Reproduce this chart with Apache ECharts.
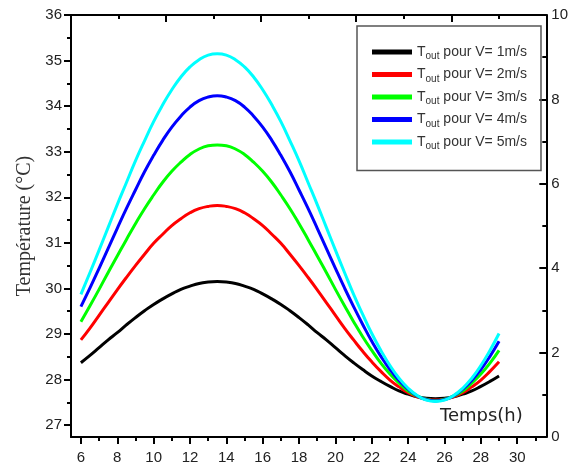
<!DOCTYPE html>
<html>
<head>
<meta charset="utf-8">
<script src="https://cdn.jsdelivr.net/npm/echarts@6/dist/echarts.min.js"></script>
<style>html,body{margin:0;padding:0;background:#fff}#c{width:571px;height:467px}</style>
</head>
<body>
<div id="c"></div>
<script>
// Time (h)
const hours = [6,6.5,7,7.5,8,8.5,9,9.5,10,10.5,11,11.5,12,12.5,13,13.5,14,14.5,15,15.5,16,16.5,17,17.5,18,18.5,19,19.5,20,20.5,21,21.5,22,22.5,23,23.5,24,24.5,25,25.5,26,26.5,27,27.5,28,28.5,29];
// Tout for each air speed (°C)
const v1 = [28.37,28.53,28.70,28.87,29.03,29.20,29.36,29.51,29.65,29.77,29.88,29.98,30.05,30.11,30.14,30.15,30.14,30.11,30.05,29.98,29.88,29.77,29.65,29.51,29.36,29.20,29.03,28.87,28.70,28.53,28.37,28.22,28.08,27.96,27.85,27.75,27.68,27.62,27.59,27.58,27.59,27.62,27.68,27.75,27.85,27.96,28.08];
const v2 = [28.87,29.13,29.41,29.69,29.97,30.24,30.50,30.75,30.99,31.19,31.38,31.53,31.66,31.75,31.80,31.82,31.80,31.75,31.66,31.53,31.38,31.19,30.99,30.75,30.50,30.24,29.97,29.69,29.41,29.13,28.87,28.62,28.39,28.18,27.99,27.84,27.71,27.62,27.57,27.55,27.57,27.62,27.71,27.84,27.99,28.18,28.39];
const v3 = [29.27,29.62,29.98,30.35,30.71,31.07,31.42,31.75,32.05,32.33,32.57,32.77,32.94,33.06,33.13,33.15,33.13,33.06,32.94,32.77,32.57,32.33,32.05,31.75,31.42,31.07,30.71,30.35,29.98,29.62,29.27,28.94,28.64,28.36,28.12,27.92,27.75,27.64,27.57,27.54,27.57,27.64,27.75,27.92,28.12,28.36,28.64];
const v4 = [29.60,30.01,30.44,30.88,31.32,31.75,32.16,32.56,32.92,33.25,33.54,33.78,33.98,34.12,34.20,34.23,34.20,34.12,33.98,33.78,33.54,33.25,32.92,32.56,32.16,31.75,31.32,30.88,30.44,30.01,29.60,29.21,28.84,28.51,28.22,27.98,27.79,27.64,27.56,27.53,27.56,27.64,27.79,27.98,28.22,28.51,28.84];
const v5 = [29.87,30.35,30.84,31.34,31.84,32.32,32.80,33.24,33.66,34.03,34.36,34.64,34.86,35.02,35.12,35.15,35.12,35.02,34.86,34.64,34.36,34.03,33.66,33.24,32.80,32.32,31.84,31.34,30.84,30.35,29.87,29.43,29.01,28.64,28.31,28.03,27.81,27.65,27.55,27.52,27.55,27.65,27.81,28.03,28.31,28.64,29.01];
const seriesNames = ['Tout pour V= 1m/s','Tout pour V= 2m/s','Tout pour V= 3m/s','Tout pour V= 4m/s','Tout pour V= 5m/s'];
const seriesColors = ['#000000','#ff0000','#00ff00','#0000ff','#00ffff'];
// tick labels
const xLabels = [6,8,10,12,14,16,18,20,22,24,26,28,30];
const xMinor = [7,9,11,13,15,17,19,21,23,25,27,29,31];
const yLabels = [27,28,29,30,31,32,33,34,35,36];
const yMinor = [27.5,28.5,29.5,30.5,31.5,32.5,33.5,34.5,35.5];

const allData = [v1,v2,v3,v4,v5];
const labelFont = {color:'#222', fontSize:15, fontFamily:'Liberation Sans, Arial, sans-serif'};
const axisLine = {show:true, lineStyle:{color:'#000', width:2}};

const chart = echarts.init(document.getElementById('c'), null, {renderer:'canvas'});
chart.setOption({
  animation:false,
  backgroundColor:'#fff',
  grid:{left:71, right:20, top:15, bottom:30},
  legend:{
    orient:'vertical', left:357, top:26,
    padding:[19,14,19,15],
    itemGap:6, itemWidth:40, itemHeight:5,
    icon:'rect',
    borderColor:'#555', borderWidth:1.5,
    data:seriesNames,
    formatter:function(n){ return 'T{sub|out}' + n.slice(4); },
    textStyle:{color:'#333', fontSize:14, fontFamily:'Liberation Sans, Arial, sans-serif',
      rich:{sub:{fontSize:10, color:'#333', fontFamily:'Liberation Sans, Arial, sans-serif', padding:[9,0,0,0]}}}
  },
  xAxis:[
    {type:'value', position:'bottom', min:5.455, max:31.6,
     axisLine:axisLine, splitLine:{show:false},
     axisTick:{show:true, inside:false, length:7, lineStyle:{color:'#000', width:2}, customValues:xLabels},
     axisLabel:Object.assign({margin:13, customValues:xLabels}, labelFont)},
    {type:'value', position:'bottom', min:5.455, max:31.6,
     axisLine:{show:false}, splitLine:{show:false}, axisLabel:{show:false},
     axisTick:{show:true, inside:false, length:4, lineStyle:{color:'#000', width:2}, customValues:xMinor}},
    {type:'value', position:'top', min:0, max:5, interval:1,
     axisLine:axisLine, splitLine:{show:false}, axisLabel:{show:false},
     axisTick:{show:true, inside:true, length:7, lineStyle:{color:'#000', width:2}},
     minorTick:{show:true, splitNumber:2, length:4, lineStyle:{color:'#000', width:2}}}
  ],
  yAxis:[
    {type:'value', position:'left', min:26.74, max:36,
     name:'Température (°C)', nameLocation:'middle', nameGap:35, nameRotate:90,
     nameTextStyle:{color:'#333', fontSize:20, fontFamily:'Liberation Serif, Times New Roman, serif'},
     axisLine:axisLine, splitLine:{show:false},
     axisTick:{show:true, inside:false, length:7, lineStyle:{color:'#000', width:2}, customValues:yLabels},
     axisLabel:Object.assign({margin:9, customValues:yLabels}, labelFont)},
    {type:'value', position:'left', min:26.74, max:36,
     axisLine:{show:false}, splitLine:{show:false}, axisLabel:{show:false},
     axisTick:{show:true, inside:false, length:4, lineStyle:{color:'#000', width:2}, customValues:yMinor}},
    {type:'value', position:'right', min:0, max:10, interval:2,
     axisLine:axisLine, splitLine:{show:false},
     axisTick:{show:true, inside:true, length:7, lineStyle:{color:'#000', width:2}},
     minorTick:{show:true, splitNumber:2, length:4, lineStyle:{color:'#000', width:2}},
     axisLabel:Object.assign({margin:5}, labelFont)}
  ],
  graphic:[{type:'text', left:440, top:407, style:{text:'Temps(h)', fill:'#222', font:'18px "DejaVu Sans", Verdana, sans-serif'}}],
  series: seriesNames.map(function(n,i){
    return {name:n, type:'line', xAxisIndex:0, yAxisIndex:0, smooth:true, showSymbol:false,
      color:seriesColors[i], lineStyle:{width:3, color:seriesColors[i]},
      data: hours.map(function(h,k){ return [h, allData[i][k]]; })};
  })
});
</script>
</body>
</html>
